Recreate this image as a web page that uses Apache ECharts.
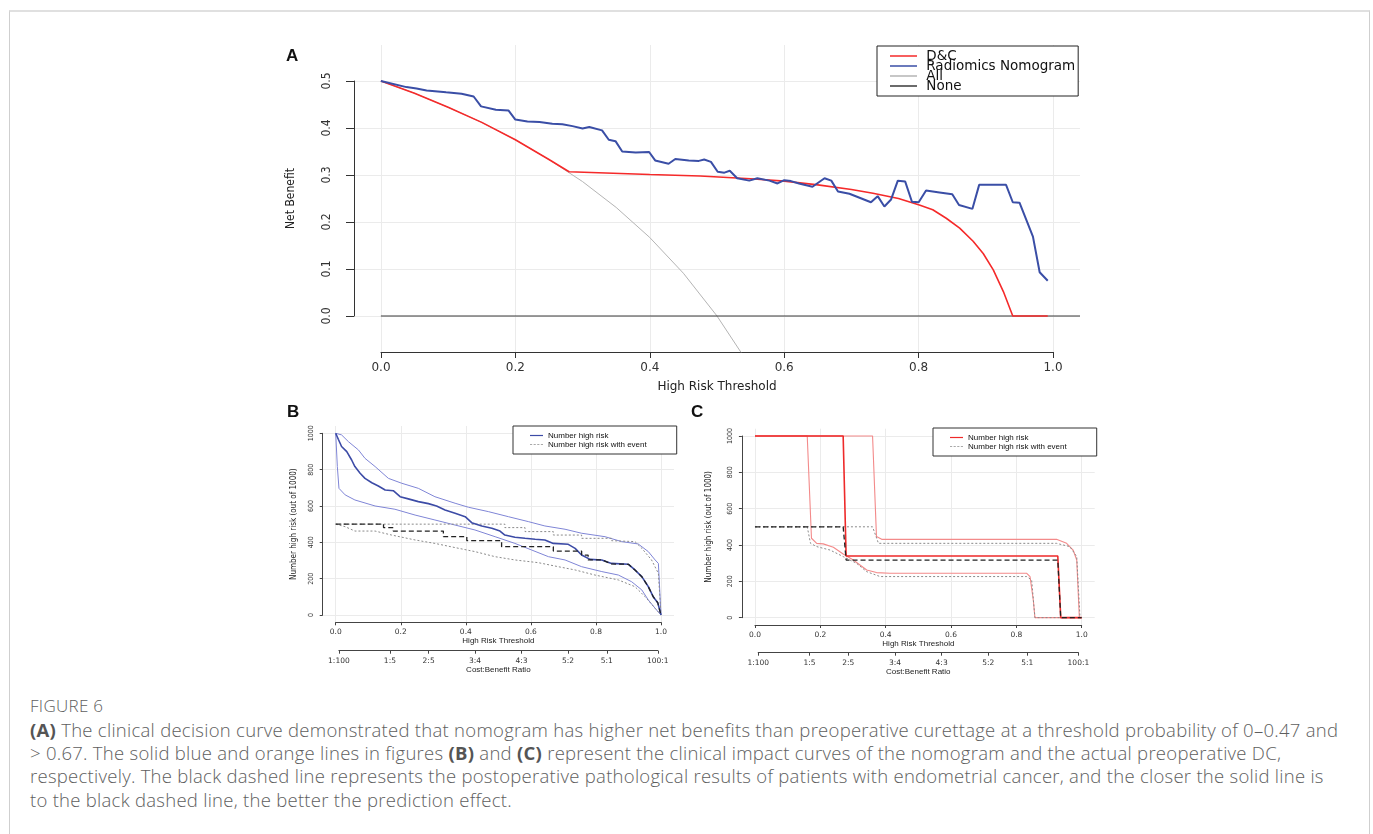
<!DOCTYPE html>
<html>
<head>
<meta charset="utf-8">
<script src="https://cdn.jsdelivr.net/npm/echarts@6/dist/echarts.min.js"></script>
<style>
  body { margin: 0; background: #fff; }
  #frame { position: absolute; left: 9px; top: 10px; width: 1359px; height: 900px;
           border-top: 2px solid #e0e0e0; border-left: 1px solid #cfcfcf; border-right: 1px solid #cfcfcf; }
  #chart { position: absolute; left: 0; top: 0; width: 1373px; height: 690px; }
  #caption { position: absolute; left: 30px; top: 694px; font-family: 'Open Sans', 'Noto Sans', sans-serif;
             color: #5e5e5e; white-space: nowrap; font-weight: 300; }
  #caption .fig { font-size: 17px; line-height: 24px; letter-spacing: 0.3px; }
  #caption .ln { font-size: 18.5px; line-height: 23.2px; letter-spacing: 0.27px; }
  #caption b { font-weight: 700; color: #555; }
</style>
</head>
<body>
<div id="frame"></div>
<div id="chart"></div>
<div id="caption">
  <div class="fig">FIGURE 6</div>
  <div class="ln"><b>(A)</b> The clinical decision curve demonstrated that nomogram has higher net benefits than preoperative curettage at a threshold probability of 0–0.47 and</div>
  <div class="ln">&gt; 0.67. The solid blue and orange lines in figures <b>(B)</b> and <b>(C)</b> represent the clinical impact curves of the nomogram and the actual preoperative DC,</div>
  <div class="ln">respectively. The black dashed line represents the postoperative pathological results of patients with endometrial cancer, and the closer the solid line is</div>
  <div class="ln">to the black dashed line, the better the prediction effect.</div>
</div>
<script>
// ---- panel A: decision curve (threshold, net benefit) ----
var aAll = [[0,0.5],[0.05,0.474],[0.1,0.444],[0.15,0.412],[0.2,0.375],[0.25,0.333],[0.3,0.286],
  [0.35,0.231],[0.4,0.167],[0.45,0.091],[0.5,0.0],[0.536,-0.078]];
var aNone = [[0,0],[1.04,0]];
var aDC = [[0,0.5],[0.05,0.474],[0.1,0.444],[0.15,0.412],[0.2,0.375],[0.25,0.333],[0.28,0.307],
  [0.4,0.301],[0.475,0.298],[0.55,0.292],[0.6,0.287],[0.65,0.279],[0.7,0.269],[0.732,0.261],
  [0.77,0.250],[0.801,0.236],[0.821,0.226],[0.841,0.208],[0.861,0.187],[0.881,0.159],[0.896,0.133],
  [0.911,0.098],[0.926,0.052],[0.940,0],[0.992,0]];
var aNomogram = [[0,0.5],[0.038,0.487],[0.053,0.484],[0.068,0.480],[0.097,0.476],[0.120,0.473],
  [0.138,0.467],[0.149,0.446],[0.171,0.439],[0.190,0.437],[0.200,0.418],[0.218,0.414],[0.236,0.413],
  [0.255,0.409],[0.270,0.408],[0.285,0.404],[0.300,0.399],[0.310,0.402],[0.329,0.395],[0.339,0.375],
  [0.349,0.372],[0.359,0.350],[0.379,0.348],[0.399,0.349],[0.408,0.331],[0.428,0.324],[0.438,0.334],
  [0.458,0.331],[0.473,0.330],[0.481,0.333],[0.491,0.328],[0.501,0.307],[0.511,0.305],[0.519,0.309],
  [0.530,0.293],[0.548,0.288],[0.560,0.293],[0.578,0.288],[0.590,0.282],[0.600,0.289],[0.610,0.287],
  [0.622,0.282],[0.642,0.275],[0.660,0.293],[0.670,0.288],[0.680,0.265],[0.697,0.260],[0.729,0.242],
  [0.739,0.255],[0.749,0.233],[0.759,0.248],[0.769,0.288],[0.780,0.286],[0.790,0.243],[0.800,0.242],
  [0.811,0.267],[0.831,0.263],[0.850,0.259],[0.860,0.236],[0.880,0.228],[0.890,0.279],[0.930,0.279],
  [0.940,0.242],[0.950,0.241],[0.970,0.169],[0.980,0.093],[0.992,0.075]];

// ---- panel B: clinical impact, nomogram (threshold, number high risk of 1000) ----
var bCenter = [[0,1000],[0.008,967],[0.018,927],[0.034,899],[0.049,853],[0.059,817],[0.075,780],
  [0.090,752],[0.111,728],[0.131,710],[0.152,688],[0.177,684],[0.198,651],[0.223,639],[0.254,624],
  [0.285,613],[0.310,600],[0.336,578],[0.367,560],[0.398,541],[0.418,508],[0.449,490],[0.480,477],
  [0.505,462],[0.520,440],[0.551,428],[0.582,422],[0.613,417],[0.643,413],[0.669,394],[0.715,389],
  [0.736,367],[0.756,330],[0.782,306],[0.818,303],[0.848,284],[0.900,279],[0.920,248],[0.941,211],
  [0.961,156],[0.976,101],[0.990,68],[1,0]];
var bUpper = [[0,1000],[0.018,991],[0.039,954],[0.070,908],[0.090,862],[0.121,817],[0.162,752],
  [0.203,725],[0.254,697],[0.305,651],[0.367,615],[0.408,593],[0.469,569],[0.531,541],[0.592,514],
  [0.643,490],[0.705,472],[0.756,450],[0.828,431],[0.879,404],[0.930,391],[0.961,349],[0.982,303],
  [0.992,284],[1,0]];
var bLower = [[0,1000],[0.005,817],[0.010,697],[0.029,661],[0.059,633],[0.121,600],[0.182,582],
  [0.244,550],[0.305,523],[0.367,495],[0.428,468],[0.490,431],[0.551,394],[0.602,358],[0.654,321],
  [0.705,303],[0.756,266],[0.818,239],[0.869,220],[0.910,183],[0.941,138],[0.961,83],[0.982,37],[1,0]];
var bEvent = [[0,500],[0.147,500],[0.147,481],[0.177,481],[0.177,462],[0.331,462],[0.331,431],
  [0.403,431],[0.403,409],[0.510,409],[0.510,376],[0.669,376],[0.669,352],[0.756,352],[0.756,330],
  [0.776,330],[0.776,303],[0.820,303],[0.848,281],[0.900,279],[0.920,248],[0.941,211],[0.961,156],
  [0.976,101],[0.990,68],[1,0]];
var bEventUpper = [[0,500],[0.520,500],[0.520,481],[0.582,481],[0.582,459],[0.669,459],[0.669,440],
  [0.756,440],[0.756,422],[0.848,422],[0.848,409],[0.920,404],[0.941,367],[0.971,303],[0.992,229],[1,0]];
var bEventLower = [[0,500],[0.029,486],[0.059,462],[0.121,462],[0.172,440],[0.244,413],[0.305,394],
  [0.367,371],[0.428,349],[0.490,321],[0.551,303],[0.623,288],[0.684,266],[0.736,248],[0.797,220],
  [0.869,193],[0.920,156],[0.951,101],[0.982,37],[1,0]];

// ---- panel C: clinical impact, D&C ----
var cCenter = [[0,1000],[0.270,1000],[0.279,339],[0.927,339],[0.936,0],[1,0]];
var cUpper = [[0,1000],[0.360,1000],[0.372,446],[0.388,431],[0.923,431],[0.954,409],[0.974,372],
  [0.985,317],[0.993,0],[1,0]];
var cLower = [[0,1000],[0.160,1000],[0.173,437],[0.189,409],[0.209,406],[0.240,387],[0.270,350],
  [0.301,317],[0.342,262],[0.372,248],[0.413,244],[0.832,244],[0.842,226],[0.852,97],[0.857,0],[1,0]];
var cEvent = [[0,500],[0.270,500],[0.279,317],[0.927,317],[0.936,0],[1,0]];
var cEventUpper = [[0,500],[0.360,500],[0.378,409],[0.923,409],[0.964,391],[0.985,336],[0.995,0],[1,0]];
var cEventLower = [[0,500],[0.160,500],[0.170,409],[0.189,391],[0.230,372],[0.270,336],[0.311,299],
  [0.342,253],[0.383,226],[0.832,226],[0.847,207],[0.857,0],[1,0]];

// tick labels
var thresholdTicks = [0, 0.2, 0.4, 0.6, 0.8, 1.0];
var netBenefitTicks = [0, 0.1, 0.2, 0.3, 0.4, 0.5];
var countTicks = [0, 200, 400, 600, 800, 1000];
var costBenefitLabels = ['1:100', '1:5', '2:5', '3:4', '4:3', '5:2', '5:1', '100:1'];
var costBenefitValues = costBenefitLabels.map(function (s) {
  var p = s.split(':'); return (+p[0]) / ((+p[0]) + (+p[1]));
});

var NARROW = "'Liberation Sans Narrow', 'DejaVu Sans Condensed', 'Liberation Sans', sans-serif";
var WIDE = "'DejaVu Sans', Verdana, sans-serif";
var ARIAL = "'Liberation Sans', Arial, sans-serif";
var dashIcon = 'path://M0,0h3v1h-3zM5,0h3v1h-3zM10,0h3v1h-3zM15,0h3v1h-3z';

function dataX(grid) {
  return { type: 'value', gridIndex: grid, min: -0.04, max: 1.04,
    axisLine: { show: false, onZero: false }, axisTick: { show: false, customValues: thresholdTicks },
    axisLabel: { show: false, customValues: thresholdTicks },
    splitLine: { show: true, lineStyle: { color: '#ebebeb', width: 1 } } };
}
function dataY(grid, lo, hi, ticks) {
  return { type: 'value', gridIndex: grid, min: lo, max: hi,
    axisLine: { show: false, onZero: false }, axisTick: { show: false, customValues: ticks },
    axisLabel: { show: false, customValues: ticks },
    splitLine: { show: true, lineStyle: { color: '#ebebeb', width: 1 } } };
}
function line(name, data, xi, color, width, type) {
  return { name: name, type: 'line', xAxisIndex: xi, yAxisIndex: xi, data: data,
    showSymbol: false, symbol: 'none', silent: true, animation: false, clip: true,
    lineStyle: { color: color, width: width, type: type || 'solid' }, itemStyle: { color: color } };
}

var smallAxisX = function (grid, offset, nameGap) {
  return { type: 'value', gridIndex: grid, min: 0, max: 1, interval: 0.2, offset: offset,
    name: 'High Risk Threshold', nameLocation: 'middle', nameGap: nameGap,
    nameTextStyle: { fontFamily: ARIAL, fontSize: 8, color: '#222' },
    axisLine: { show: true, onZero: false, lineStyle: { color: '#444', width: 1 } },
    axisTick: { show: true, length: 3, lineStyle: { color: '#444' } },
    axisLabel: { fontFamily: WIDE, fontSize: 7.5, color: '#333', margin: 6,
      formatter: function (v) { return v.toFixed(1); } },
    splitLine: { show: false } };
};
var smallAxisY = function (grid, offset, nameGap) {
  return { type: 'value', gridIndex: grid, min: 0, max: 1000, interval: 200, offset: offset,
    name: 'Number high risk (out of 1000)', nameLocation: 'middle', nameGap: nameGap, nameRotate: 90,
    nameTextStyle: { fontFamily: NARROW, fontSize: 8, color: '#222' },
    axisLine: { show: true, onZero: false, lineStyle: { color: '#444', width: 1 } },
    axisTick: { show: true, length: 3, lineStyle: { color: '#444' } },
    axisLabel: { fontFamily: NARROW, fontSize: 7, color: '#333', margin: 8, rotate: 90,
      formatter: function (v) { return String(v); } },
    splitLine: { show: false } };
};
var costAxisX = function (grid, offset) {
  return { type: 'value', gridIndex: grid, offset: offset,
    min: costBenefitValues[0], max: costBenefitValues[costBenefitValues.length - 1],
    name: 'Cost:Benefit Ratio', nameLocation: 'middle', nameGap: 12,
    nameTextStyle: { fontFamily: ARIAL, fontSize: 8, color: '#222' },
    axisLine: { show: true, onZero: false, lineStyle: { color: '#444', width: 1 } },
    axisTick: { show: true, length: 3, lineStyle: { color: '#444' }, customValues: costBenefitValues },
    axisLabel: { fontFamily: WIDE, fontSize: 7.5, color: '#333', margin: 6, customValues: costBenefitValues,
      formatter: function (v) {
        var best = 0;
        for (var i = 1; i < costBenefitValues.length; i++) {
          if (Math.abs(costBenefitValues[i] - v) < Math.abs(costBenefitValues[best] - v)) best = i;
        }
        return costBenefitLabels[best];
      } },
    splitLine: { show: false } };
};
var hiddenY = function (grid) {
  return { type: 'value', gridIndex: grid, show: false, min: 0, max: 1000 };
};
var smallLegend = function (left, top, color) {
  return { left: left, top: top, orient: 'vertical', selectedMode: false,
    padding: [5, 30, 5, 17], itemGap: 0, itemWidth: 13, itemHeight: 1.2,
    borderColor: '#333', borderWidth: 1, backgroundColor: '#fff',
    textStyle: { fontFamily: ARIAL, fontSize: 8, lineHeight: 9, color: '#111' },
    data: [
      { name: 'Number high risk', icon: 'rect', itemStyle: { color: color } },
      { name: 'Number high risk with event', icon: dashIcon, itemStyle: { color: '#555' } }
    ] };
};

var chart = echarts.init(document.getElementById('chart'), null, { renderer: 'canvas' });
var option = {
  animation: false,
  textStyle: { fontFamily: ARIAL },
  title: [
    { text: 'A', left: 281, top: 43, textStyle: { fontFamily: ARIAL, fontSize: 17, fontWeight: 'bold', color: '#111' } },
    { text: 'B', left: 282, top: 399, textStyle: { fontFamily: ARIAL, fontSize: 17, fontWeight: 'bold', color: '#111' } },
    { text: 'C', left: 686, top: 399, textStyle: { fontFamily: ARIAL, fontSize: 17, fontWeight: 'bold', color: '#111' } }
  ],
  legend: [
    { left: 877, top: 46, orient: 'vertical', selectedMode: false,
      padding: [3, 3, 3, 13], itemGap: -4, itemWidth: 27, itemHeight: 1.5, icon: 'rect',
      borderColor: '#222', borderWidth: 1, backgroundColor: '#fff',
      formatter: function (name) { return ' ' + name; },
      textStyle: { fontFamily: WIDE, fontSize: 13.5, lineHeight: 14, color: '#111' },
      data: ['D&C', 'Radiomics Nomogram', 'All', 'None'] },
    smallLegend(513, 426, '#3c4ba6'),
    smallLegend(933, 428, '#ee2a2a')
  ],
  grid: [
    { left: 354, top: 45, width: 726, height: 307 },        // 0 A region
    { left: 381, top: 81, width: 672, height: 235 },        // 1 A axes
    { left: 322.7, top: 426, width: 351.3, height: 196.3 }, // 2 B region
    { left: 335.7, top: 433.3, width: 325.3, height: 181.7 }, // 3 B axes
    { left: 338.9, top: 433.3, width: 318.9, height: 181.7 }, // 4 B cost:benefit
    { left: 741.9, top: 428.7, width: 352.8, height: 196.2 }, // 5 C region
    { left: 755, top: 436, width: 326.7, height: 181.7 },     // 6 C axes
    { left: 758.2, top: 436, width: 320.2, height: 181.7 }    // 7 C cost:benefit
  ],
  xAxis: [
    dataX(0),
    { type: 'value', gridIndex: 1, min: 0, max: 1, interval: 0.2, offset: 36,
      name: 'High Risk Threshold', nameLocation: 'middle', nameGap: 29,
      nameTextStyle: { fontFamily: WIDE, fontSize: 12, color: '#222' },
      axisLine: { show: true, onZero: false, lineStyle: { color: '#333', width: 1 } },
      axisTick: { show: true, length: 6, lineStyle: { color: '#333' } },
      axisLabel: { fontFamily: WIDE, fontSize: 12, color: '#333', margin: 10,
        formatter: function (v) { return v.toFixed(1); } },
      splitLine: { show: false } },
    dataX(2),
    smallAxisX(3, 7.3, 14),
    costAxisX(4, 35.7),
    dataX(5),
    smallAxisX(6, 7.3, 14),
    costAxisX(7, 35)
  ],
  yAxis: [
    dataY(0, -0.0766, 0.5766, netBenefitTicks),
    { type: 'value', gridIndex: 1, min: 0, max: 0.5, interval: 0.1, offset: 27,
      name: 'Net Benefit', nameLocation: 'middle', nameGap: 57, nameRotate: 90,
      nameTextStyle: { fontFamily: NARROW, fontSize: 12, color: '#222' },
      axisLine: { show: true, onZero: false, lineStyle: { color: '#333', width: 1 } },
      axisTick: { show: true, length: 8, lineStyle: { color: '#333' } },
      axisLabel: { fontFamily: NARROW, fontSize: 12, color: '#333', margin: 21, rotate: 90,
        formatter: function (v) { return v.toFixed(1); } },
      splitLine: { show: false } },
    dataY(2, -40, 1040, countTicks),
    smallAxisY(3, 13, 25),
    hiddenY(4),
    dataY(5, -40, 1040, countTicks),
    smallAxisY(6, 13.1, 29),
    hiddenY(7)
  ],
  series: [
    line('All', aAll, 0, '#b4b4b4', 1),
    line('None', aNone, 0, '#3a3a3a', 1.2),
    line('D&C', aDC, 0, '#f52a2a', 1.6),
    line('Radiomics Nomogram', aNomogram, 0, '#3a4ea6', 2),

    line('Nomogram upper', bUpper, 2, '#7f85d6', 1),
    line('Nomogram lower', bLower, 2, '#7f85d6', 1),
    line('Event upper B', bEventUpper, 2, '#8a8a8a', 1, [2, 2]),
    line('Event lower B', bEventLower, 2, '#8a8a8a', 1, [2, 2]),
    line('Number high risk', bCenter, 2, '#3c4ba6', 1.6),
    line('Number high risk with event', bEvent, 2, '#222', 1.3, [5, 3]),

    line('DC upper', cUpper, 5, '#f38a8a', 1.1),
    line('DC lower', cLower, 5, '#f38a8a', 1.1),
    line('Event upper C', cEventUpper, 5, '#8a8a8a', 1, [2, 2]),
    line('Event lower C', cEventLower, 5, '#8a8a8a', 1, [2, 2]),
    line('Number high risk', cCenter, 5, '#ee2a2a', 1.6),
    line('Number high risk with event', cEvent, 5, '#222', 1.3, [5, 3])
  ]
};
chart.setOption(option);
</script>
</body>
</html>
